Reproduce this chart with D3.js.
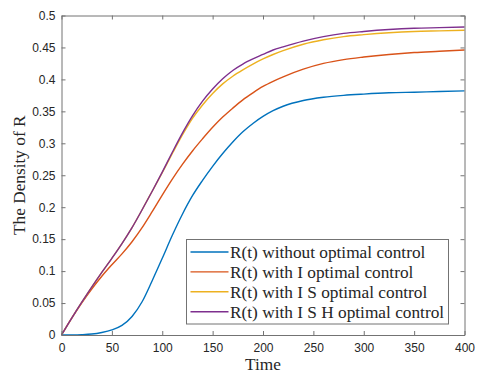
<!DOCTYPE html>
<html>
<head>
<meta charset="utf-8">
<script src="https://cdn.jsdelivr.net/npm/d3@7"></script>
<style>
	body { margin: 0; background: #fff; }
	svg { display: block; }
</style>
</head>
<body>
<div id="chart"></div>
<script>
( function () {
	'use strict';

	// ─── Data ────────────────────────────────────────────────────────────────
	var time = [ 0, 10, 20, 30, 40, 50, 60, 70, 80, 90,
		100, 110, 120, 130, 140, 150, 160, 170, 180, 190, 200, 210, 220,
		240, 260, 280, 300, 325, 350, 375, 400 ];

	var noControl = [ 0, 0.0001, 0.0005, 0.0015, 0.004, 0.008, 0.015, 0.029, 0.052, 0.085,
		0.12, 0.156, 0.189, 0.218, 0.242, 0.264, 0.284, 0.302, 0.318, 0.331, 0.342, 0.351, 0.358,
		0.367, 0.372, 0.375, 0.377, 0.379, 0.380, 0.381, 0.382 ];

	var iControl = [ 0, 0.026, 0.050, 0.072, 0.092, 0.110, 0.127, 0.146, 0.168, 0.193,
		0.219, 0.244, 0.267, 0.288, 0.307, 0.325, 0.341, 0.355, 0.368, 0.379, 0.389, 0.397, 0.404,
		0.416, 0.425, 0.431, 0.435, 0.439, 0.442, 0.444, 0.446 ];

	var isControl = [ 0, 0.026, 0.051, 0.075, 0.098, 0.120, 0.143, 0.168, 0.196, 0.225,
		0.254, 0.284, 0.313, 0.339, 0.360, 0.378, 0.393, 0.405, 0.415, 0.424, 0.432, 0.439, 0.445,
		0.455, 0.462, 0.467, 0.470, 0.473, 0.475, 0.476, 0.477 ];

	var ishControl = [ 0, 0.026, 0.051, 0.075, 0.098, 0.120, 0.143, 0.168, 0.196, 0.225,
		0.255, 0.286, 0.316, 0.343, 0.366, 0.385, 0.401, 0.414, 0.424, 0.432, 0.439, 0.446, 0.451,
		0.460, 0.467, 0.472, 0.475, 0.478, 0.480, 0.481, 0.482 ];

	var xTicks = [ 0, 50, 100, 150, 200, 250, 300, 350, 400 ];
	var yTicks = [ 0, 0.05, 0.1, 0.15, 0.2, 0.25, 0.3, 0.35, 0.4, 0.45, 0.5 ];

	var seriesNames = [
		'R(t) without optimal control',
		'R(t) with I optimal control',
		'R(t) with I S optimal control',
		'R(t) with I S H optimal control'
	];

	var COLORS = [ '#0072BD', '#D95319', '#EDB120', '#7E2F8E' ];
	var AXIS   = '#737373';
	var TEXT   = '#262626';
	var SANS   = '"Liberation Sans", Arial, sans-serif';
	var SERIF  = '"Liberation Serif", "Times New Roman", serif';

	var series = [ noControl, iControl, isControl, ishControl ].map( function ( vals, i ) {
		return {
			name: seriesNames[ i ],
			color: COLORS[ i ],
			points: time.map( function ( t, j ) { return { t: t, v: vals[ j ] }; } )
		};
	} );

	// ─── Layout ──────────────────────────────────────────────────────────────
	var width  = 481;
	var height = 374;
	var margin = { top: 15.5, right: 16.5, bottom: 39, left: 61.5 };
	var iw     = width - margin.left - margin.right;
	var ih     = height - margin.top - margin.bottom;

	var svg = d3.select( '#chart' ).append( 'svg' )
		.attr( 'width', width )
		.attr( 'height', height );

	var g = svg.append( 'g' )
		.attr( 'transform', 'translate(' + margin.left + ',' + margin.top + ')' );

	var x = d3.scaleLinear().domain( [ 0, 400 ] ).range( [ 0, iw ] );
	var y = d3.scaleLinear().domain( [ 0, 0.5 ] ).range( [ ih, 0 ] );

	function styleAxis( s ) {
		s.select( '.domain' ).attr( 'stroke', AXIS );
		s.selectAll( 'line' ).attr( 'stroke', AXIS );
		s.selectAll( 'text' )
			.attr( 'fill', TEXT )
			.style( 'font-family', SANS )
			.style( 'font-size', '12px' );
	}

	// ─── Curves ──────────────────────────────────────────────────────────────
	var line = d3.line()
		.x( function ( d ) { return x( d.t ); } )
		.y( function ( d ) { return y( d.v ); } )
		.curve( d3.curveMonotoneX );

	g.selectAll( 'path.curve' )
		.data( series )
		.join( 'path' )
		.attr( 'class', 'curve' )
		.attr( 'fill', 'none' )
		.attr( 'stroke', function ( d ) { return d.color; } )
		.attr( 'stroke-width', 1.4 )
		.attr( 'd', function ( d ) { return line( d.points ); } );

	// ─── Axes (box with inward ticks) ────────────────────────────────────────
	g.append( 'g' )
		.attr( 'transform', 'translate(0,' + ih + ')' )
		.call( d3.axisBottom( x ).tickValues( xTicks ).tickSizeInner( -4 ).tickSizeOuter( 0 ).tickPadding( 8 ) )
		.call( styleAxis );

	g.append( 'g' )
		.call( d3.axisTop( x ).tickValues( xTicks ).tickSizeInner( -4 ).tickSizeOuter( 0 ).tickFormat( '' ) )
		.call( styleAxis );

	g.append( 'g' )
		.call( d3.axisLeft( y ).tickValues( yTicks ).tickSizeInner( -4 ).tickSizeOuter( 0 ).tickPadding( 6 )
			.tickFormat( function ( v ) { return String( v ); } ) )
		.call( styleAxis );

	g.append( 'g' )
		.attr( 'transform', 'translate(' + iw + ',0)' )
		.call( d3.axisRight( y ).tickValues( yTicks ).tickSizeInner( -4 ).tickSizeOuter( 0 ).tickFormat( '' ) )
		.call( styleAxis );

	// Axis titles.
	svg.append( 'text' )
		.attr( 'x', margin.left + iw / 2 )
		.attr( 'y', 370 )
		.attr( 'text-anchor', 'middle' )
		.attr( 'fill', TEXT )
		.style( 'font-family', SERIF )
		.style( 'font-size', '17.3px' )
		.text( 'Time' );

	svg.append( 'text' )
		.attr( 'transform', 'translate(25,' + ( margin.top + ih / 2 ) + ') rotate(-90)' )
		.attr( 'text-anchor', 'middle' )
		.attr( 'fill', TEXT )
		.style( 'font-family', SERIF )
		.style( 'font-size', '17.3px' )
		.text( 'The Density of R' );

	// ─── Legend ──────────────────────────────────────────────────────────────
	var legend = svg.append( 'g' ).attr( 'transform', 'translate(186.5,239.5)' );
	legend.append( 'rect' )
		.attr( 'width', 262 )
		.attr( 'height', 84.5 )
		.attr( 'fill', '#fff' )
		.attr( 'stroke', AXIS );

	var rows = legend.selectAll( 'g.item' )
		.data( series )
		.join( 'g' )
		.attr( 'class', 'item' )
		.attr( 'transform', function ( d, i ) { return 'translate(0,' + ( 12.5 + i * 19.9 ) + ')'; } );

	rows.append( 'line' )
		.attr( 'x1', 4 )
		.attr( 'x2', 42 )
		.attr( 'stroke', function ( d ) { return d.color; } )
		.attr( 'stroke-width', 1.4 );

	rows.append( 'text' )
		.attr( 'x', 43.5 )
		.attr( 'dy', '0.35em' )
		.attr( 'fill', TEXT )
		.style( 'font-family', SERIF )
		.style( 'font-size', '17.3px' )
		.text( function ( d ) { return d.name; } );
} )();
</script>
</body>
</html>
